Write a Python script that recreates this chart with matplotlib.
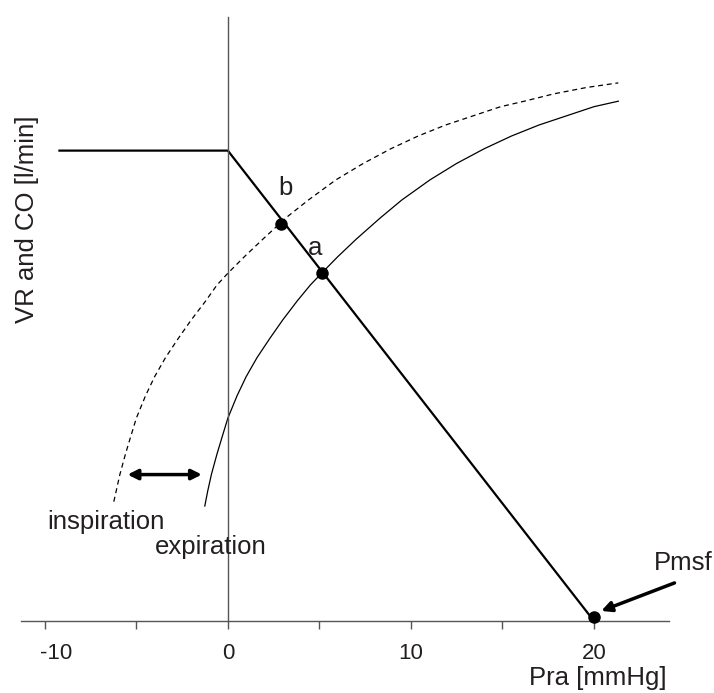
import numpy as np
import matplotlib
matplotlib.use('Agg')
import matplotlib.pyplot as plt
from matplotlib.transforms import ScaledTranslation

plt.rcParams['font.family'] = ['Liberation Sans', 'DejaVu Sans']

# venous return curve (plateau, then linear fall to Pmsf)
vr_x = [-9.2, 0.0, 20.0]
vr_y = [25.7, 25.7, 0.0]

# cardiac function curve, expiration (solid)
exp_x = [-1.26, -1.1, -0.9, -0.6, -0.3, 0.0, 0.5, 1.0, 1.6, 2.3, 3.0, 3.8, 4.5,
         5.12, 6.0, 7.0, 8.3, 9.5, 11.04, 12.5, 14.0, 15.5, 17.0, 18.5, 20.0, 21.33]
exp_y = [6.28, 7.1, 8.0, 9.1, 10.1, 11.08, 12.3, 13.35, 14.4, 15.45, 16.45, 17.5, 18.35,
         19.0, 19.9, 20.85, 22.0, 23.0, 24.1, 25.0, 25.8, 26.5, 27.1, 27.6, 28.1, 28.4]

# cardiac function curve, inspiration (dashed)
insp_x = [-6.23, -6.1, -5.9, -5.6, -5.3, -5.0, -4.5, -4.0, -3.4, -2.7, -2.0, -1.2, -0.6,
          0.0, 0.9, 1.9, 3.2, 4.4, 5.9, 7.4, 8.9, 10.4, 11.9, 13.4, 14.9, 16.2, 17.8, 19.6, 21.33]
insp_y = [6.52, 7.1, 8.0, 9.1, 10.1, 11.08, 12.3, 13.35, 14.4, 15.45, 16.45, 17.5, 18.35,
          19.0, 19.9, 20.85, 22.05, 23.0, 24.1, 25.0, 25.8, 26.5, 27.1, 27.6, 28.1, 28.4, 28.8, 29.15, 29.4]

# equilibrium points a, b and Pmsf
pts_x = [5.12, 2.93, 20.0]
pts_y = [19.0, 21.7, 0.2]

xticks_major = [-10, 0, 10, 20]
xticks_minor = [-5, 5, 15]
xtick_labels = ['-10', '0', '10', '20']

txt = '#231f20'
W, H = 714, 693
fig = plt.figure(figsize=(W / 100, H / 100), dpi=100)
ax = fig.add_axes([21 / W, (H - 621) / H, (669 - 21) / W, (621 - 17) / H])
ax.set_xlim(-11.3, 24.1)
ax.set_ylim(0, 33)

for s in ['top', 'right']:
    ax.spines[s].set_visible(False)
ax.spines['left'].set_position(('data', 0))
for s in ['left', 'bottom']:
    ax.spines[s].set_color('#555555')
    ax.spines[s].set_linewidth(1.0)
ax.set_yticks([])
ax.set_xticks(xticks_major)
ax.set_xticklabels(xtick_labels)
ax.set_xticks(xticks_minor, minor=True)
ax.tick_params(axis='x', which='both', direction='out', length=6, width=1.0,
               color='#555555', labelsize=16, labelcolor=txt, pad=10)
# the -10 label sits a bit to the right of its tick
lab0 = ax.get_xticklabels()[0]
lab0.set_transform(lab0.get_transform() + ScaledTranslation(11 / 100, 0, fig.dpi_scale_trans))

ax.plot(vr_x, vr_y, color='black', lw=1.6, solid_joinstyle='miter')
ax.plot(exp_x, exp_y, color='black', lw=0.9)
ax.plot(insp_x, insp_y, color='black', lw=0.9, ls=(0, (4, 3)))
ax.plot(pts_x, pts_y, 'o', color='black', ms=8, clip_on=False, zorder=5)

ax.annotate('', xy=(-1.42, 8.0), xytext=(-5.48, 8.0),
            arrowprops=dict(arrowstyle='<|-|>', color='black', lw=2.5,
                            mutation_scale=15, shrinkA=0, shrinkB=0))
ax.annotate('', xy=(20.4, 0.55), xytext=(24.4, 2.08), annotation_clip=False,
            arrowprops=dict(arrowstyle='-|>', color='black', lw=2.5,
                            mutation_scale=15, shrinkA=0, shrinkB=0))

fs = 18.5
ax.text(3.17, 23.64, 'b', fontsize=fs, color=txt, ha='center', va='center')
ax.text(4.75, 20.37, 'a', fontsize=fs, color=txt, ha='center', va='center')
ax.text(-6.67, 5.43, 'inspiration', fontsize=fs, color=txt, ha='center', va='center')
ax.text(-0.93, 4.06, 'expiration', fontsize=fs, color=txt, ha='center', va='center')
ax.text(23.28, 3.17, 'Pmsf', fontsize=fs, color=txt, ha='left', va='center', clip_on=False)
ax.text(20.2, -3.1, 'Pra [mmHg]', fontsize=fs, color=txt, ha='center', va='center', clip_on=False)
fig.text(26.7 / W, 1 - 219 / H, 'VR and CO [l/min]', fontsize=fs, color=txt,
         rotation=90, ha='center', va='center')

fig.savefig('out.png', dpi=100)
